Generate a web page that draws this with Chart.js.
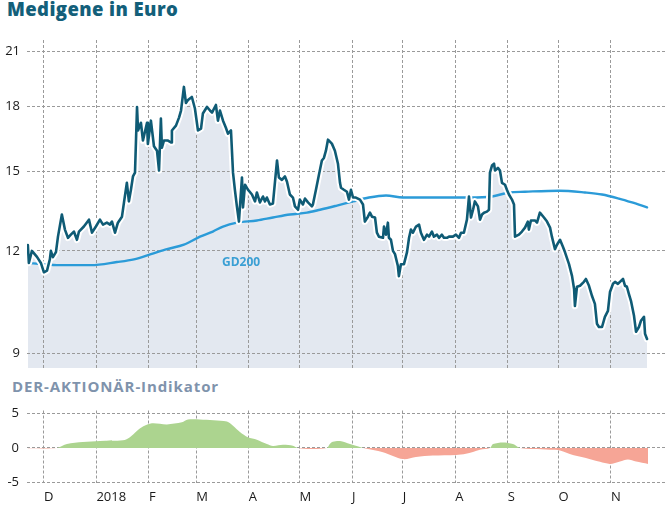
<!DOCTYPE html>
<html>
<head>
<meta charset="utf-8">
<script src="https://cdn.jsdelivr.net/npm/chart.js@4.4.1/dist/chart.umd.min.js"></script>
<style>
    body { margin: 0; background: #fff; width: 666px; height: 506px; position: relative; overflow: hidden; font-family: 'Open Sans', sans-serif; }
    canvas { position: absolute; left: 0; }
    .label { position: absolute; font-weight: 700; line-height: 1; white-space: nowrap; }
    #title { left: 7px; top: 0px; font-size: 18.5px; letter-spacing: 0.4px; font-weight: 800; color: #135f7a; }
    #subTitle { left: 12px; top: 379px; font-size: 15px; letter-spacing: 0.9px; color: #7f93ac; }
    #gdLabel { left: 222px; top: 256px; font-size: 12px; color: #3a9fd4; }
</style>
</head>
<body>
<div id="title" class="label">Medigene in Euro</div>
<div id="subTitle" class="label">DER-AKTIONÄR-Indikator</div>
<canvas id="priceChart" width="666" height="372" style="top:0"></canvas>
<canvas id="indChart" width="666" height="106" style="top:400px"></canvas>
<div id="gdLabel" class="label">GD200</div>
<script>
// x values are days counted from 1 Dec 2017
const monthDays = [0, 31, 62, 90, 121, 151, 182, 212, 243, 274, 304, 335];
const monthLabels = ['D', '2018', 'F', 'M', 'A', 'M', 'J', 'J', 'A', 'S', 'O', 'N'];
const priceTicks = [9, 12, 15, 18, 21];
const indTicks = [-5, 0, 5];

// Medigene closing price (Euro)
const priceDays = [
    -9.5, -8.9, -7.1, -4.1, -1.8, 0, 1.8, 3.5, 4.1, 5.3, 7.1, 8.3, 10.6, 12.4, 14.2, 15.9, 17.7, 19.5, 20.7, 23.6,
    26.6, 28.4, 30.7, 33.1, 34.9, 37.2, 39.0, 40.2, 42.0, 43.7, 46.1, 47.3, 49.0, 50.2, 51.4, 52.6, 53.8, 55.0, 55.6, 57.3,
    58.5, 60.9, 61.4, 63.2, 65.0, 66.8, 68.0, 69.1, 69.7, 70.9, 73.3, 75.1, 75.6, 78.0, 79.8, 81.0, 82.7, 83.9, 85.1, 87.4,
    89.2, 91.0, 92.8, 93.9, 96.3, 98.1, 99.3, 101.6, 102.8, 104.0, 105.8, 107.5, 108.7, 110.5, 111.7, 112.8, 114.0, 115.2, 117.0, 117.6,
    118.8, 120.5, 122.9, 124.7, 125.8, 127.6, 129.4, 130.6, 131.7, 133.5, 135.3, 137.7, 138.8, 140.6, 142.4, 143.6, 145.3, 147.1, 148.3, 150.1,
    151.2, 153.0, 154.2, 156.0, 158.3, 158.9, 160.7, 162.5, 164.2, 165.4, 166.6, 167.8, 170.1, 171.9, 173.7, 174.9, 175.5, 177.2, 179.0, 180.2,
    181.4, 182.6, 184.3, 186.7, 188.5, 189.6, 191.4, 192.6, 193.8, 195.6, 196.7, 197.9, 200.3, 200.9, 202.1, 203.2, 203.8, 205.0, 206.2, 207.4,
    209.1, 209.7, 210.9, 212.7, 214.5, 215.7, 216.8, 218.0, 219.8, 221.6, 222.7, 224.5, 226.3, 227.5, 229.2, 230.4, 232.2, 233.4, 235.1, 236.3,
    238.1, 239.3, 241.6, 243.4, 245.2, 246.4, 248.1, 249.9, 251.1, 252.3, 253.5, 254.6, 256.4, 257.6, 258.8, 260.0, 261.7, 262.9, 263.5, 264.7,
    265.9, 266.5, 268.2, 269.4, 270.6, 272.4, 273.5, 274.7, 276.5, 277.7, 278.3, 280.6, 282.4, 284.2, 285.9, 286.5, 287.7, 290.1, 291.3, 293.0,
    295.4, 297.2, 299.0, 300.1, 301.9, 303.1, 304.9, 306.6, 307.8, 310.2, 312.0, 313.2, 313.7, 314.9, 316.7, 319.0, 320.2, 322.0, 323.8, 325.5,
    326.7, 327.9, 329.7, 331.4, 333.2, 334.4, 336.2, 337.4, 339.1, 340.3, 342.1, 343.3, 344.4, 345.6, 346.8, 348.6, 349.8, 351.5, 352.7, 354.5,
    355.1, 356.3
];
const priceValues = [
    12.2, 11.6, 12.0, 11.8, 11.6, 11.3, 11.35, 11.72, 12.0, 11.79, 11.96, 12.49, 13.29, 12.74, 12.45, 12.56, 12.67, 12.38, 12.67, 12.85,
    13.1, 12.63, 12.85, 13.1, 12.92, 12.99, 12.92, 13.03, 12.63, 12.99, 13.21, 13.75, 14.53, 13.79, 14.25, 14.79, 14.95, 17.98, 16.83, 17.2,
    16.36, 17.2, 16.2, 17.3, 16.1, 15.9, 15.04, 17.4, 16.04, 16.36, 16.36, 16.27, 16.83, 17.06, 17.45, 17.8, 19.02, 18.18, 18.33, 18.49,
    17.9, 16.83, 16.92, 17.65, 17.98, 17.8, 17.7, 18.08, 17.3, 17.8, 17.3, 16.96, 16.68, 16.83, 14.95, 14.25, 13.6, 13.03, 14.75, 13.56,
    14.45, 14.25, 14.06, 13.79, 14.14, 13.75, 13.98, 13.79, 13.94, 13.67, 13.71, 15.47, 14.75, 14.65, 14.79, 14.57, 14.06, 13.94, 13.6, 13.47,
    13.86, 13.67, 13.9, 13.75, 13.6, 13.67, 14.25, 14.87, 15.47, 15.58, 15.9, 16.4, 16.22, 15.9, 15.33, 14.53, 14.33, 14.25, 14.17, 13.86,
    14.25, 13.94, 13.94, 13.86, 13.67, 13.03, 13.21, 13.36, 13.21, 13.18, 12.63, 12.49, 12.45, 12.85, 12.56, 12.99, 12.45, 12.38, 12.0, 11.89,
    11.5, 11.18, 11.56, 11.56, 11.96, 12.45, 12.74, 12.63, 12.85, 12.92, 12.63, 12.38, 12.56, 12.49, 12.67, 12.49, 12.56, 12.45, 12.56, 12.45,
    12.45, 12.49, 12.49, 12.56, 12.45, 12.63, 12.63, 13.1, 13.98, 13.18, 13.47, 13.79, 13.6, 13.1, 13.29, 13.36, 13.4, 13.47, 14.95, 15.25,
    15.33, 15.04, 15.15, 15.04, 14.53, 14.45, 14.25, 14.06, 13.86, 13.67, 12.49, 12.56, 12.67, 12.81, 13.03, 12.74, 13.07, 13.07, 12.99, 13.36,
    13.18, 13.03, 12.81, 12.49, 12.06, 12.21, 12.38, 12.14, 11.96, 11.56, 11.18, 10.78, 10.28, 10.85, 10.88, 11.0, 11.09, 10.88, 10.57, 10.34,
    9.78, 9.69, 9.69, 9.97, 10.14, 10.69, 10.94, 11.0, 10.94, 11.0, 11.09, 10.88, 10.85, 10.63, 10.43, 10.0, 9.56, 9.69, 9.86, 9.97,
    9.51, 9.37
];

// 200-day average
const gdDays = [-9.5, 0, 7.7, 27.8, 43.1, 53.2, 63.2, 72.7, 82.7, 92.2, 99.8, 105.8, 114, 125.8, 135.3, 145.3, 155.4,
    163.1, 173.1, 182.6, 192, 202.1, 212.1, 231.6, 251.1, 264.7, 274.7, 284.2, 304.3, 319.6, 329.7, 339.7, 347.4, 356.3];
const gdValues = [11.6, 11.56, 11.53, 11.53, 11.63, 11.72, 11.89, 12.06, 12.21, 12.49, 12.67, 12.85, 12.99, 13.07, 13.18, 13.29, 13.36,
    13.47, 13.63, 13.79, 13.94, 14.02, 13.94, 13.94, 13.94, 13.98, 14.14, 14.17, 14.21, 14.14, 14.06, 13.9, 13.75, 13.56];

// DER-AKTIONÄR-Indikator
const indDays = [-9.5, 7.7, 13.6, 23, 33.1, 46.7, 50.8, 54.9, 58.5, 63.8, 72.7, 81.5, 85.1, 92.2, 108.1, 111.7, 115.8, 120.5, 125.8,
    131.7, 135.3, 141.2, 147.1, 150.1, 157.2, 167.2, 169, 170.7, 174.9, 180.8, 186.7, 188.5, 200.3, 212.1, 219.8, 229.8, 243.4, 249.3,
    257.6, 263.5, 265.3, 271.2, 277.1, 281.2, 288.9, 299, 304.9, 312.5, 320.2, 328.5, 334.4, 340.3, 345, 349.8, 356.9];
const indValues = [-0.05, 0, 0.57, 0.85, 1.0, 1.1, 1.55, 2.45, 3.1, 3.55, 3.4, 3.7, 4.1, 4.1, 3.8, 3.2, 2.3, 1.55, 1.2,
    0.57, 0.3, 0.45, 0.33, 0, -0.15, 0, 0.6, 0.9, 1.0, 0.57, 0.15, 0, -0.6, -1.6, -1.3, -1.1, -1.0, -0.85,
    -0.25, 0, 0.57, 0.8, 0.57, 0, -0.15, -0.25, -0.35, -1.0, -1.45, -2.0, -2.3, -1.95, -1.67, -1.95, -2.3];

const pts = (xs, ys) => xs.map((x, i) => ({ x: x, y: ys[i] }));

Chart.defaults.font.family = "'Open Sans', sans-serif";
Chart.defaults.font.size = 13;
Chart.defaults.color = '#1a1a1a';
Chart.defaults.animation = false;

const grid = { color: '#9a9a9a', lineWidth: 1, drawTicks: false };
const border = { display: false, dash: [3, 2] };
const monthAxis = scale => { scale.ticks = monthDays.map(v => ({ value: v })); };
// fixed axis width, and no extra room reserved for the edge labels
const fixY = scale => { scale.width = 27; scale.paddingTop = 0; scale.paddingBottom = 0; };

new Chart(document.getElementById('priceChart'), {
    type: 'line',
    data: {
        datasets: [
            { data: pts(priceDays, priceValues), borderColor: '#0f5b75', borderWidth: 2.6, order: 0 },
            { data: pts(priceDays, priceValues), borderColor: '#ffffff', borderWidth: 6.5, fill: 'start', backgroundColor: '#e3e8f0', order: 1 },
            { data: pts(gdDays, gdValues), borderColor: '#2b9bd8', borderWidth: 2.4, cubicInterpolationMode: 'monotone', order: 2 }
        ]
    },
    options: {
        responsive: false,
        layout: { padding: { top: 40, bottom: 4, left: 0, right: 0 } },
        elements: { point: { radius: 0 }, line: { borderJoinStyle: 'round', borderCapStyle: 'round' } },
        plugins: { legend: { display: false }, tooltip: { enabled: false }, filler: { drawTime: 'beforeDraw' } },
        scales: {
            x: {
                type: 'linear', min: -10, max: 367.5,
                afterBuildTicks: monthAxis,
                ticks: { display: false },
                grid: grid, border: border,
                afterFit: s => { s.height = 0; }
            },
            y: {
                type: 'logarithmic', min: 8.636, max: 21.7,
                afterBuildTicks: s => { s.ticks = priceTicks.map(v => ({ value: v })); },
                ticks: { padding: 7, callback: v => String(v) },
                grid: grid, border: border,
                afterFit: fixY
            }
        }
    }
});

new Chart(document.getElementById('indChart'), {
    type: 'line',
    data: {
        datasets: [{
            data: pts(indDays, indValues),
            borderColor: 'transparent', borderWidth: 0, tension: 0.3,
            fill: { target: 'origin', above: '#acd48f', below: '#f6a596' }
        }]
    },
    options: {
        responsive: false,
        layout: { padding: { top: 10.5, bottom: 0, left: 0, right: 0 } },
        elements: { point: { radius: 0 } },
        plugins: { legend: { display: false }, tooltip: { enabled: false } },
        scales: {
            x: {
                type: 'linear', min: -10, max: 367.5,
                afterBuildTicks: monthAxis,
                ticks: { align: 'start', padding: 6, autoSkip: false, maxRotation: 0, callback: (v, i) => monthLabels[i] },
                grid: grid, border: border,
                afterFit: s => { s.height = 23; }
            },
            y: {
                min: -5.05, max: 5.4,
                afterBuildTicks: s => { s.ticks = indTicks.map(v => ({ value: v })); },
                ticks: { padding: 8 },
                grid: grid, border: border,
                afterFit: fixY
            }
        }
    }
});
</script>
</body>
</html>
